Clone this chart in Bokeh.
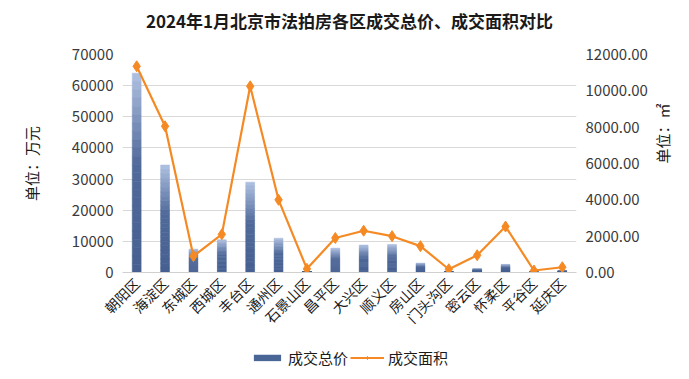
import math
from bokeh.plotting import figure
from bokeh.layouts import column
from bokeh.models import (Range1d, LinearAxis, FixedTicker, NumeralTickFormatter,
                          Legend, LegendItem, ColumnDataSource, FactorRange, Label)
from bokeh.embed import file_html
from bokeh.resources import INLINE

title_text = "2024年1月北京市法拍房各区成交总价、成交面积对比"
districts = ["朝阳区", "海淀区", "东城区", "西城区", "丰台区", "通州区", "石景山区", "昌平区",
             "大兴区", "顺义区", "房山区", "门头沟区", "密云区", "怀柔区", "平谷区", "延庆区"]
total_price = [64000, 34500, 7500, 10500, 29000, 11000, 300, 7800,
               8800, 9000, 3000, 200, 1200, 2600, 100, 600]
area = [11350, 8050, 900, 2100, 10250, 4000, 200, 1900,
        2300, 2000, 1450, 180, 950, 2530, 110, 290]
series_names = ["成交总价", "成交面积"]

left_ticks = [0, 10000, 20000, 30000, 40000, 50000, 60000, 70000]
right_ticks = [0, 2000, 4000, 6000, 8000, 10000, 12000]

FONT = "Noto Sans CJK SC"
BAR_DARK = "#4a6697"
LINE_COLOR = "#f58a24"
W = 689

# ---------- title strip ----------
t = figure(width=W, height=40, output_backend="svg", toolbar_location=None,
           x_range=Range1d(0, W), y_range=Range1d(0, 40), min_border=0)
t.axis.visible = False
t.grid.visible = False
t.outline_line_color = None
t.add_layout(Label(x=W / 2, y=20, text=title_text, text_align="center",
                   text_baseline="middle", text_font=FONT,
                   text_font_size="17px", text_font_style="bold", text_color="#1a1a1a"))

# ---------- main chart ----------
p = figure(x_range=FactorRange(*districts), y_range=Range1d(0, 70000),
           width=W, height=300, output_backend="svg", toolbar_location=None,
           min_border_left=122, min_border_right=113, min_border_top=14,
           min_border_bottom=68)
p.extra_y_ranges = {"area": Range1d(0, 12000)}
p.outline_line_color = None
p.background_fill_color = "white"
p.border_fill_color = "white"

stops = [(0.0, (176, 194, 226)), (0.45, (80, 106, 154)), (1.0, (70, 96, 145))]


def grad(tt):
    for (t0, c0), (t1, c1) in zip(stops[:-1], stops[1:]):
        if t0 <= tt <= t1:
            f = (tt - t0) / (t1 - t0)
            return "#%02x%02x%02x" % tuple(int(round(a + (b - a) * f)) for a, b in zip(c0, c1))
    return "#%02x%02x%02x" % stops[-1][1]


N = 24
xs, tops, bottoms, cols = [], [], [], []
for d, v in zip(districts, total_price):
    for i in range(N):
        xs.append(d)
        tops.append(v * (1 - i / N))
        bottoms.append(v * (1 - (i + 1) / N))
        cols.append(grad((i + 0.5) / N))
src = ColumnDataSource(dict(x=xs, top=tops, bottom=bottoms, color=cols))
p.vbar(x="x", top="top", bottom="bottom", width=0.31, source=src,
       fill_color="color", line_color="color", line_width=0.6)

p.line(districts, area, y_range_name="area", line_color=LINE_COLOR, line_width=2.2)
p.scatter(districts, area, y_range_name="area", marker="diamond", size=11,
          fill_color=LINE_COLOR, line_color=LINE_COLOR)

p.yaxis.ticker = FixedTicker(ticks=left_ticks)
p.yaxis.axis_label = "单位：万元"
ra = LinearAxis(y_range_name="area", ticker=FixedTicker(ticks=right_ticks),
                formatter=NumeralTickFormatter(format="0.00"), axis_label="单位：㎡")
p.add_layout(ra, "right")

for ax in list(p.yaxis):
    ax.axis_line_color = None
    ax.major_tick_line_color = None
    ax.minor_tick_line_color = None
    ax.major_tick_out = 0
    ax.major_tick_in = 0
    ax.minor_tick_out = 0
    ax.minor_tick_in = 0
    ax.major_label_text_font = FONT
    ax.major_label_text_font_size = "15px"
    ax.major_label_text_color = "#3a3a3a"
    ax.major_label_standoff = 9
    ax.axis_label_text_font = FONT
    ax.axis_label_text_font_size = "15px"
    ax.axis_label_text_font_style = "normal"
    ax.axis_label_text_color = "#1a1a1a"

p.yaxis[0].axis_label_standoff = 27
ra.axis_label_standoff = 12
try:
    ra.axis_label_orientation = math.pi / 2
except Exception:
    pass

p.xaxis.major_label_orientation = math.pi / 4
p.xaxis.major_label_text_font = FONT
p.xaxis.major_label_text_font_size = "14px"
p.xaxis.major_label_text_color = "#1a1a1a"
p.xaxis.axis_line_color = "#d0d0d0"
p.xaxis.major_tick_line_color = None
p.xaxis.major_tick_out = 0
p.xaxis.major_tick_in = 0
p.xaxis.major_label_standoff = 8

p.xgrid.grid_line_color = None
p.ygrid.grid_line_color = "#d9d9d9"
p.ygrid.grid_line_width = 1

# ---------- legend strip (legend-only renderers, data kept off-screen) ----------
lg = figure(width=W, height=34, output_backend="svg", toolbar_location=None,
            x_range=Range1d(0, W), y_range=Range1d(0, 34), min_border=0)
lg.axis.visible = False
lg.grid.visible = False
lg.outline_line_color = None
r_bar = lg.vbar(x=[-100], top=[-100], bottom=[-110], width=1,
                fill_color=BAR_DARK, line_color=None)
r_ln = lg.line(x=[-100, -90], y=[-100, -100], line_color=LINE_COLOR, line_width=2.2)
r_sc = lg.scatter(x=[-100], y=[-100], marker="diamond", size=10,
                  fill_color=LINE_COLOR, line_color=LINE_COLOR)
legend = Legend(items=[LegendItem(label=series_names[0], renderers=[r_bar]),
                       LegendItem(label=series_names[1], renderers=[r_ln, r_sc])],
                orientation="horizontal", location="center",
                border_line_color=None, background_fill_alpha=0,
                label_text_font=FONT, label_text_font_size="15px",
                label_text_color="#1a1a1a", glyph_width=34, glyph_height=8,
                label_height=20, spacing=2, padding=2, margin=0, label_standoff=4)
lg.add_layout(legend)

layout = column(t, p, lg, spacing=0)
open("out.html", "w").write(file_html(layout, INLINE))
